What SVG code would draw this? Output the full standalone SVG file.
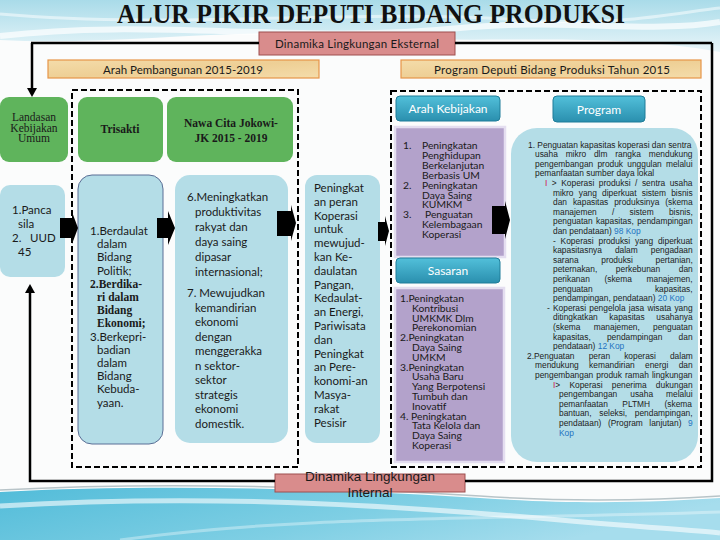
<svg xmlns="http://www.w3.org/2000/svg" width="720" height="540" viewBox="0 0 720 540">
<defs>
<linearGradient id="topg" x1="0" y1="0" x2="0" y2="1"><stop offset="0" stop-color="#a9dbe9"/><stop offset="1" stop-color="#e8f5f9"/></linearGradient>
<linearGradient id="botg" x1="0" y1="0" x2="1" y2="0.3"><stop offset="0" stop-color="#52bcd9"/><stop offset="0.6" stop-color="#7fcfe4"/><stop offset="1" stop-color="#a6dded"/></linearGradient>
<linearGradient id="btng" x1="0" y1="0" x2="0" y2="1"><stop offset="0" stop-color="#52c0da"/><stop offset="1" stop-color="#2a8fae"/></linearGradient>
<linearGradient id="tang" x1="0" y1="0" x2="1" y2="1"><stop offset="0" stop-color="#f4dcaa"/><stop offset="0.5" stop-color="#eecf95"/><stop offset="1" stop-color="#f4dcaa"/></linearGradient>
</defs>
<style>
.green{fill:#5fb45c}
.lb{fill:#b4dde7}
.pur{fill:#b3a2cb;stroke:#e4def0;stroke-width:2.5}
.btn{fill:url(#btng);stroke:#1f7d99;stroke-width:1}
.tan{fill:url(#tang);stroke:#e69548;stroke-width:1.2}
.pink{fill:#d98c8c;stroke:#9e4f4f;stroke-width:1}
.dash{fill:none;stroke:#000;stroke-width:2;stroke-dasharray:6 3}
.line{fill:none;stroke:#000;stroke-width:2.5}
.blk{fill:#000}
.t{font-family:Lato,"Liberation Sans",sans-serif;font-size:11.5px;fill:#1a1a1a}
.pl{font-family:Lato,"Liberation Sans",sans-serif;font-size:10.3px;fill:#1a1a1a}
.s{font-family:"Liberation Serif",serif}
.b{font-weight:bold}
.w{fill:#fff;text-anchor:middle;font-size:12px}
.m{text-anchor:middle}
.p{font-family:"Liberation Sans",Arial,sans-serif;font-size:8.4px;fill:#222}
.r{fill:#d0204a}
.bl{fill:#1f73c2}
</style>

<rect x="0" y="0" width="720" height="540" fill="#fbfcfc"/>
<path d="M0,0 H720 V52 C600,30 480,46 360,36 C240,26 120,46 0,40 Z" fill="url(#topg)"/>
<path d="M0,36 C150,18 300,44 460,28 C560,18 650,34 720,22" fill="none" stroke="#fff" stroke-width="6" opacity="0.7"/>
<path d="M0,14 C180,30 360,8 520,20 C620,27 680,12 720,8" fill="none" stroke="#fff" stroke-width="3" opacity="0.5"/>
<path d="M0,492 C150,484 320,488 480,498 C580,505 660,502 720,498 V540 H0 Z" fill="url(#botg)"/>
<path d="M0,490 C150,482 320,486 480,496 C580,503 660,500 720,496" fill="none" stroke="#b8c4c8" stroke-width="1.5"/>
<path d="M0,506 C200,494 380,504 560,520 C640,527 690,530 720,533" fill="none" stroke="#fff" stroke-width="5" opacity="0.6"/>
<path d="M120,540 C300,515 480,520 720,512" fill="none" stroke="#fff" stroke-width="3" opacity="0.35"/>

<g id="title">
<text x="371" y="23" class="s b m" font-size="27" fill="#111" textLength="508" lengthAdjust="spacingAndGlyphs">ALUR PIKIR DEPUTI BIDANG PRODUKSI</text>
</g>

<g id="dashed-left"><rect class="dash" x="72" y="90" width="226" height="377"/></g>
<g id="dashed-right"><rect class="dash" x="391" y="91" width="310" height="376"/></g>

<g id="eksternal">
<rect class="pink" x="259" y="32" width="196" height="23"/>
<text class="t m" x="357" y="48" font-size="12" textLength="164">Dinamika Lingkungan Eksternal</text>
</g>

<g id="arah-pembangunan">
<rect class="tan" x="48" y="60" width="271" height="18"/>
<text class="t m" x="183" y="73.5" font-size="12" textLength="160">Arah Pembangunan 2015-2019</text>
</g>

<g id="program-deputi">
<rect class="tan" x="401" y="60" width="300" height="18"/>
<text class="t m" x="552" y="73.5" font-size="12" textLength="236">Program Deputi Bidang Produksi Tahun 2015</text>
</g>

<g id="landasan">
<rect class="green" x="0" y="97" width="68" height="65" rx="9"/>
<text class="t s m" font-size="10.5"><tspan x="34" y="121">Landasan</tspan><tspan x="34" y="131.5">Kebijakan</tspan><tspan x="34" y="142">Umum</tspan></text>
</g>

<g id="trisakti">
<rect class="green" x="78" y="97" width="85" height="65" rx="9"/>
<text class="t s b m" x="120" y="133" font-size="12.5">Trisakti</text>
</g>

<g id="nawacita">
<rect class="green" x="167" y="97" width="126" height="65" rx="9"/>
<text class="t s b m" font-size="11.5"><tspan x="231" y="127">Nawa Cita Jokowi-</tspan><tspan x="231" y="141.5">JK 2015 - 2019</tspan></text>
</g>

<g id="panca">
<rect class="lb" x="0" y="185" width="65" height="92" rx="10"/>
<text class="t"><tspan x="12" y="214">1.Panca</tspan><tspan x="18" y="228">sila</tspan><tspan x="12" y="242">2.</tspan><tspan x="30" y="242">UUD</tspan><tspan x="18" y="256">45</tspan></text>
</g>

<g id="berdaulat">
<rect class="lb" x="78" y="175" width="85" height="269" rx="14" stroke="#5b6f96" stroke-width="1"/>
<text class="t">
<tspan x="90" y="235">1.Berdaulat</tspan>
<tspan x="97" y="248">dalam</tspan>
<tspan x="97" y="261">Bidang</tspan>
<tspan x="97" y="275">Politik;</tspan>
<tspan x="90" y="288" class="s b">2.Berdika-</tspan>
<tspan x="97" y="301" class="s b">ri dalam</tspan>
<tspan x="97" y="314" class="s b">Bidang</tspan>
<tspan x="97" y="327" class="s b">Ekonomi;</tspan>
<tspan x="90" y="341">3.Berkepri-</tspan>
<tspan x="97" y="354">badian</tspan>
<tspan x="97" y="367">dalam</tspan>
<tspan x="97" y="380">Bidang</tspan>
<tspan x="97" y="393">Kebuda-</tspan>
<tspan x="97" y="407">yaan.</tspan>
</text>
</g>

<g id="nawa-list">
<rect class="lb" x="175" y="175" width="113" height="268" rx="15"/>
<text class="t" font-size="12">
<tspan x="187" y="201">6.Meningkatkan</tspan>
<tspan x="195" y="216">produktivitas</tspan>
<tspan x="195" y="231">rakyat dan</tspan>
<tspan x="195" y="246">daya saing</tspan>
<tspan x="195" y="261">dipasar</tspan>
<tspan x="195" y="276">internasional;</tspan>
<tspan x="187" y="297">7. Mewujudkan</tspan>
<tspan x="195" y="311.5">kemandirian</tspan>
<tspan x="195" y="326">ekonomi</tspan>
<tspan x="195" y="340.5">dengan</tspan>
<tspan x="195" y="355">menggerakka</tspan>
<tspan x="195" y="369.5">n sektor-</tspan>
<tspan x="195" y="384">sektor</tspan>
<tspan x="195" y="398.5">strategis</tspan>
<tspan x="195" y="413">ekonomi</tspan>
<tspan x="195" y="427.5">domestik.</tspan>
</text>
</g>

<g id="peningkatan">
<rect class="lb" x="305" y="175" width="75" height="268" rx="12"/>
<text class="t">
<tspan x="314" y="192">Peningkat</tspan>
<tspan x="314" y="205.8">an peran</tspan>
<tspan x="314" y="219.6">Koperasi</tspan>
<tspan x="314" y="233.4">untuk</tspan>
<tspan x="314" y="247.2">mewujud-</tspan>
<tspan x="314" y="261">kan  Ke-</tspan>
<tspan x="314" y="274.8">daulatan</tspan>
<tspan x="314" y="288.6">Pangan,</tspan>
<tspan x="314" y="302.4">Kedaulat-</tspan>
<tspan x="314" y="316.2">an Energi,</tspan>
<tspan x="314" y="330">Pariwisata</tspan>
<tspan x="314" y="343.8">dan</tspan>
<tspan x="314" y="357.6">Peningkat</tspan>
<tspan x="314" y="371.4">an Pere-</tspan>
<tspan x="314" y="385.2">konomi-an</tspan>
<tspan x="314" y="399">Masya-</tspan>
<tspan x="314" y="412.8">rakat</tspan>
<tspan x="314" y="426.6">Pesisir</tspan>
</text>
</g>

<g id="arah-kebijakan">
<rect class="btn" x="396" y="96" width="104" height="25" rx="4"/>
<text class="t w" x="448" y="113">Arah Kebijakan</text>
</g>

<g id="kebijakan-list">
<rect class="pur" x="395" y="127" width="110" height="130"/>
<text class="pl">
<tspan x="403" y="149">1.</tspan><tspan x="422" y="149">Peningkatan</tspan>
<tspan x="422" y="158.9">Penghidupan</tspan>
<tspan x="422" y="168.8">Berkelanjutan</tspan>
<tspan x="422" y="178.7">Berbasis UM</tspan>
<tspan x="403" y="188.6">2.</tspan><tspan x="422" y="188.6">Peningkatan</tspan>
<tspan x="422" y="198.5">Daya Saing</tspan>
<tspan x="422" y="208.4">KUMKM</tspan>
<tspan x="403" y="218.3">3.</tspan><tspan x="425" y="218.3">Penguatan</tspan>
<tspan x="422" y="228.2">Kelembagaan</tspan>
<tspan x="422" y="238.1">Koperasi</tspan>
</text>
</g>

<g id="sasaran">
<rect class="btn" x="396" y="258" width="104" height="25" rx="4"/>
<text class="t w" x="448" y="275">Sasaran</text>
</g>

<g id="sasaran-list">
<rect class="pur" x="395" y="288" width="109" height="174"/>
<text class="pl">
<tspan x="400" y="302">1.Peningkatan</tspan>
<tspan x="412" y="311.8">Kontribusi</tspan>
<tspan x="412" y="321.6">UMKMK Dlm</tspan>
<tspan x="412" y="331.4">Perekonomian</tspan>
<tspan x="400" y="341.2">2.Peningkatan</tspan>
<tspan x="412" y="351">Daya Saing</tspan>
<tspan x="412" y="360.8">UMKM</tspan>
<tspan x="400" y="370.6">3.Peningkatan</tspan>
<tspan x="412" y="380.4">Usaha Baru</tspan>
<tspan x="412" y="390.2">Yang Berpotensi</tspan>
<tspan x="412" y="400">Tumbuh dan</tspan>
<tspan x="412" y="409.8">Inovatif</tspan>
<tspan x="400" y="419.6">4. Peningkatan</tspan>
<tspan x="412" y="429.4">Tata Kelola dan</tspan>
<tspan x="412" y="439.2">Daya Saing</tspan>
<tspan x="412" y="449">Koperasi</tspan>
</text>
</g>

<g id="program-btn">
<rect class="btn" x="553" y="96" width="92" height="26" rx="4"/>
<text class="t w" x="599" y="113.5">Program</text>
</g>

<g id="program-list">
<rect class="lb" x="511" y="128" width="187" height="334" rx="26"/>
<text class="p" x="528" y="147.5">1. Penguatan kapasitas koperasi dan sentra</text>
<text class="p" x="535" y="157.1" word-spacing="5.5">usaha mikro dlm rangka mendukung</text>
<text class="p" x="535" y="166.7" word-spacing="1.9">pengembangan produk unggulan melalui</text>
<text class="p" x="535" y="176.3">pemanfaatan sumber daya lokal</text>
<text class="p" x="545" y="185.9" word-spacing="2.2"><tspan class="r">I</tspan> &gt; Koperasi produksi / sentra usaha</text>
<text class="p" x="553" y="195.5" word-spacing="2.9">mikro yang diperkuat sistem bisnis</text>
<text class="p" x="553" y="205.1" word-spacing="3.6">dan kapasitas produksinya (skema</text>
<text class="p" x="553" y="214.7" word-spacing="12.9">manajemen / sistem bisnis,</text>
<text class="p" x="553" y="224.3" word-spacing="1.1">penguatan kapasitas, pendampingan</text>
<text class="p" x="553" y="233.9">dan pendataan) <tspan class="bl">98 Kop</tspan></text>
<text class="p" x="553" y="243.5" word-spacing="2.5">- Koperasi produksi yang diperkuat</text>
<text class="p" x="553" y="253.1" word-spacing="10.7">kapasitasnya dalam pengadaan</text>
<text class="p" x="553" y="262.7" word-spacing="20.3">sarana produksi pertanian,</text>
<text class="p" x="553" y="272.3" word-spacing="16.3">peternakan, perkebunan dan</text>
<text class="p" x="553" y="281.9" word-spacing="12.3">perikanan (skema manajemen,</text>
<text class="p" x="553" y="291.5" word-spacing="60">penguatan kapasitas,</text>
<text class="p" x="553" y="301.1">pendampingan, pendataan) <tspan class="bl">20 Kop</tspan></text>
<text class="p" x="547" y="310.7" word-spacing="0.9">- Koperasi pengelola jasa wisata yang</text>
<text class="p" x="553" y="320.3" word-spacing="9.3">ditingkatkan kapasitas usahanya</text>
<text class="p" x="553" y="329.9" word-spacing="10.9">(skema manajemen, penguatan</text>
<text class="p" x="553" y="339.5" word-spacing="13.9">kapasitas, pendampingan dan</text>
<text class="p" x="553" y="349.1">pendataan) <tspan class="bl">12 Kop</tspan></text>
<text class="p" x="527" y="358.7" word-spacing="11.8">2.Penguatan peran koperasi dalam</text>
<text class="p" x="535" y="368.3" word-spacing="8">mendukung kemandirian energi dan</text>
<text class="p" x="535" y="377.9" word-spacing="0.8">pengembangan produk ramah lingkungan</text>
<text class="p" x="553" y="387.5" word-spacing="6.9"><tspan class="r">I</tspan>&gt; Koperasi penerima dukungan</text>
<text class="p" x="559" y="397.1" word-spacing="10.7">pengembangan usaha melalui</text>
<text class="p" x="559" y="406.7" word-spacing="12.1">pemanfaatan PLTMH (skema</text>
<text class="p" x="559" y="416.3" word-spacing="5.3">bantuan, seleksi, pendampingan,</text>
<text class="p" x="559" y="425.9" word-spacing="4.2">pendataan) (Program lanjutan) <tspan class="bl">9</tspan></text>
<text class="p bl" x="559" y="435.5">Kop</text>
</g>

<g id="internal">
<rect class="pink" x="275" y="474" width="190" height="18"/>
<text font-family="'Liberation Sans',Arial,sans-serif" font-size="13.5" fill="#1a1a1a" text-anchor="middle"><tspan x="370" y="481">Dinamika Lingkungan</tspan><tspan x="370" y="497">Internal</tspan></text>
</g>

<g id="connectors">
<path class="line" d="M31,43 H259 M455,43 H712"/>
<path class="line" d="M32,43 V89"/>
<polygon class="blk" points="27,88 37,88 32,97"/>
<path class="line" d="M712,43 V481 H465"/>
<path class="line" d="M30,292 V481 H275"/>
<polygon class="blk" points="25,293 35,293 30,284"/>
<polygon class="blk" points="60,218 72,218 72,212 78,228 72,244 72,238 60,238"/>
<polygon class="blk" points="157,218 168,218 168,211 175,228 168,245 168,238 157,238"/>
<polygon class="blk" points="277,211 291,211 291,205 296,223 291,241 291,236 277,236"/>
<polygon class="blk" points="378,222 385,222 385,216 389,231 385,246 385,241 378,241"/>
<polygon class="blk" points="492,206 505,206 505,201 510,220 505,239 505,234 492,234"/>
</g>
</svg>
